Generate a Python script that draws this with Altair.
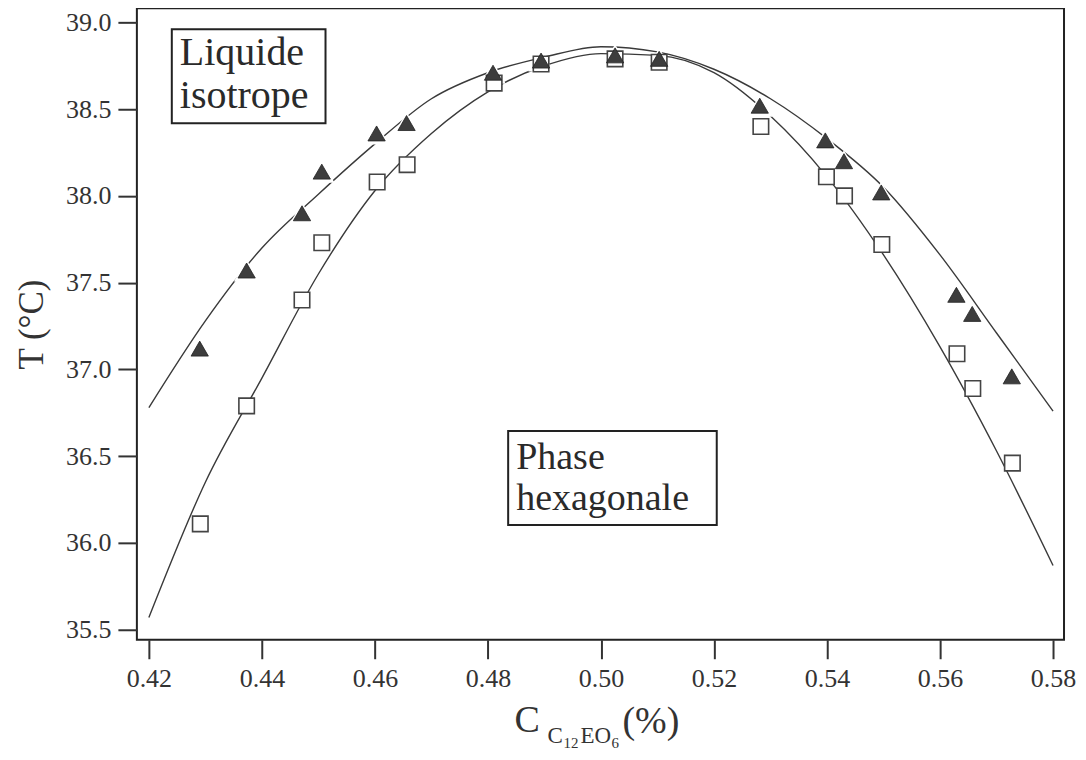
import altair as alt
import pandas as pd

# ---- data ----
tri_x = [0.4290, 0.4373, 0.4471, 0.4506, 0.4603, 0.4656, 0.4809, 0.4894, 0.5025,
         0.5103, 0.5281, 0.5397, 0.5430, 0.5496, 0.5629, 0.5657, 0.5727]
tri_y = [37.12, 37.57, 37.90, 38.14, 38.36, 38.42, 38.71, 38.78, 38.81,
         38.79, 38.52, 38.32, 38.20, 38.02, 37.43, 37.32, 36.96]
sq_x = [0.4291, 0.4373, 0.4471, 0.4506, 0.4604, 0.4657, 0.4811, 0.4894, 0.5025,
        0.5103, 0.5283, 0.5399, 0.5431, 0.5497, 0.5630, 0.5658, 0.5728]
sq_y = [36.11, 36.79, 37.40, 37.73, 38.08, 38.18, 38.65, 38.76, 38.79,
        38.77, 38.40, 38.11, 38.00, 37.72, 37.09, 36.89, 36.46]

curve_x = [0.42, 0.43, 0.44, 0.45, 0.46, 0.47, 0.48, 0.49, 0.50,
           0.51, 0.52, 0.53, 0.54, 0.55, 0.56, 0.57, 0.58]
upper_y = [36.78, 37.28, 37.70, 38.01, 38.30, 38.56, 38.71, 38.80, 38.86,
           38.83, 38.73, 38.56, 38.33, 38.05, 37.66, 37.21, 36.76]
lower_y = [35.57, 36.35, 36.95, 37.55, 38.03, 38.36, 38.60, 38.75, 38.82,
           38.81, 38.71, 38.46, 38.11, 37.66, 37.13, 36.53, 35.87]

x_ticks = [0.42, 0.44, 0.46, 0.48, 0.50, 0.52, 0.54, 0.56, 0.58]
y_ticks = [35.5, 36.0, 36.5, 37.0, 37.5, 38.0, 38.5, 39.0]

box_labels = ["Liquide isotrope", "Phase hexagonale"]
box_x1 = [0.42406, 0.48358]
box_x2 = [0.45126, 0.52049]
box_y1 = [38.96, 36.645]
box_y2 = [38.419, 36.104]

text_lines_a = ["Liquide", "isotrope"]
text_x_a = [0.42548, 0.42548]
text_y_a = [38.752, 38.505]
text_lines_b = ["Phase", "hexagonale"]
text_x_b = [0.48500, 0.48500]
text_y_b = [36.428, 36.19]

FONT = "Liberation Serif"
INK = "#333333"

tri_df = pd.DataFrame({"x": tri_x, "y": tri_y})
sq_df = pd.DataFrame({"x": sq_x, "y": sq_y})
up_df = pd.DataFrame({"x": curve_x, "y": upper_y})
lo_df = pd.DataFrame({"x": curve_x, "y": lower_y})
box_df = pd.DataFrame({"label": box_labels, "x": box_x1, "x2": box_x2, "y": box_y1, "y2": box_y2})
txt_a = pd.DataFrame({"t": text_lines_a, "x": text_x_a, "y": text_y_a})
txt_b = pd.DataFrame({"t": text_lines_b, "x": text_x_b, "y": text_y_b})

xscale = alt.Scale(domain=[0.41788, 0.58194], nice=False, zero=False)
yscale = alt.Scale(domain=[35.442, 39.081], nice=False, zero=False)

xax = alt.Axis(values=x_ticks, format=".2f", title=None, grid=False, domain=False,
               tickSize=19, tickWidth=2, tickColor=INK, labelFont=FONT,
               labelFontSize=26, labelColor=INK, labelPadding=7, labelFlush=False)
yax = alt.Axis(values=y_ticks, format=".1f", title="T (°C)", grid=False, domain=False,
               tickSize=19, tickWidth=2, tickColor=INK, labelFont=FONT,
               labelFontSize=26, labelColor=INK, labelPadding=7,
               titleFont=FONT, titleFontSize=35, titleFontWeight="normal",
               titleColor=INK, titlePadding=16)

X = alt.X("x:Q", scale=xscale, axis=xax)
Y = alt.Y("y:Q", scale=yscale, axis=yax)

upper = alt.Chart(up_df).mark_line(color="#3a3a3a", strokeWidth=1.4, interpolate="monotone").encode(x=X, y=Y)
lower = alt.Chart(lo_df).mark_line(color="#3a3a3a", strokeWidth=1.4, interpolate="monotone").encode(x="x:Q", y="y:Q")

halo = alt.Chart(tri_df).mark_point(shape="triangle-up", filled=True, color="white",
                                    size=650, opacity=1).encode(x="x:Q", y="y:Q")
squares = alt.Chart(sq_df).mark_point(shape="square", fill="white", fillOpacity=1,
                                      stroke="#444444", strokeWidth=1.6, size=240,
                                      opacity=1).encode(x="x:Q", y="y:Q")
tris = alt.Chart(tri_df).mark_point(shape="triangle-up", filled=True, fill="#3d3d3d",
                                    stroke="#222222", strokeWidth=0.8, size=300,
                                    opacity=1).encode(x="x:Q", y="y:Q")

boxes = alt.Chart(box_df).mark_rect(fill="white", stroke="#222222", strokeWidth=2).encode(
    x="x:Q", x2="x2:Q", y="y:Q", y2="y2:Q")
texts_a = alt.Chart(txt_a).mark_text(align="left", baseline="alphabetic", font=FONT,
                                     fontSize=40, color="#2a2a2a").encode(
    x="x:Q", y="y:Q", text="t:N")
texts_b = alt.Chart(txt_b).mark_text(align="left", baseline="alphabetic", font=FONT,
                                     fontSize=38, color="#2a2a2a").encode(
    x="x:Q", y="y:Q", text="t:N")

# x-axis title with subscripts: C_{C12EO6} (%)
def piece(txt, px, py, size):
    return alt.Chart(pd.DataFrame({"t": [txt]})).mark_text(
        align="left", baseline="alphabetic", font=FONT, fontSize=size, color=INK
    ).encode(x=alt.value(px), y=alt.value(py), text="t:N")

title_parts = [
    piece("C", 378, 724, 38),
    piece("C", 411, 735, 23),
    piece("12", 427, 740, 15),
    piece("EO", 444, 735, 23),
    piece("6", 475, 740, 15),
    piece("(%)", 486, 725, 38),
]

chart = alt.layer(upper, lower, halo, squares, tris, boxes, texts_a, texts_b, *title_parts).properties(
    width=928, height=632,
    background="white",
    autosize=alt.AutoSizeParams(type="none"),
    padding={"left": 129, "top": 0, "right": 14, "bottom": 110},
).configure_view(
    stroke="#222222", strokeWidth=2
).configure_axis(
    labelFont=FONT, titleFont=FONT, labelColor=INK, tickColor=INK
)

chart.save("out.html", embed_options={"renderer": "svg", "actions": False})
